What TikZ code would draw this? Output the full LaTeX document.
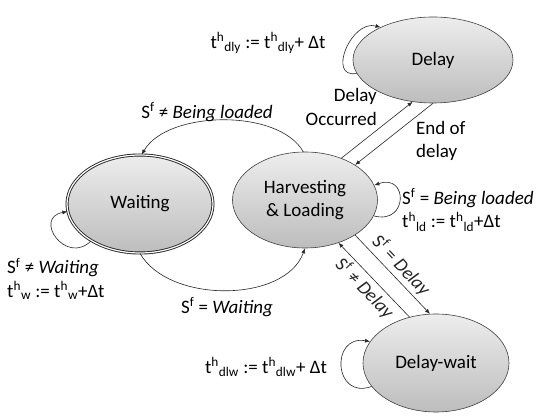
\documentclass[tikz,border=0pt]{standalone}
\usepackage{fontspec}
\setmainfont{Carlito}
\usepackage{tikz}
\usetikzlibrary{shapes.geometric, arrows.meta, positioning}
\newcommand{\figfont}{\fontsize{19}{23.5}\selectfont}
\newcommand{\tvar}[1]{t\textsuperscript{h}\textsubscript{#1}}
\newcommand{\sfl}{S\textsuperscript{f}}

\begin{document}
\begin{tikzpicture}[
    x=1pt, y=1pt,
    state/.style={ellipse, draw=black!75, line width=0.6pt,
        top color=gray!14, bottom color=gray!52, inner sep=0pt,
        align=center, font=\figfont},
    arr/.style={-{Latex[length=5pt,width=4pt]}, line width=0.6pt, black!85},
    lbl/.style={font=\figfont, inner sep=1pt}
]
\useasboundingbox (0,0) rectangle (544,-419);

\node[state, minimum width=146pt, minimum height=98pt, draw=black!85,
      line width=0.9pt, double=white, double distance=1.2pt] (wait) at (140,-204) {Waiting};
\node[state, minimum width=145pt, minimum height=96pt] (harv) at (305,-200) {Harvesting\\\& Loading};
\node[state, minimum width=160pt, minimum height=86pt] (dly) at (433,-60) {Delay};
\node[state, minimum width=146pt, minimum height=98pt] (dlw) at (436,-363) {Delay-wait};

% self loops
\draw[arr] (dly.190) to[out=190, in=165, looseness=1.5] (dly.148);
\draw[arr] (wait.217) to[out=225, in=190, looseness=2.4] (wait.186);
\draw[arr] (harv.347) to[out=-15, in=20, looseness=3] (harv.12);
\draw[arr] (dlw.200) to[out=200, in=170, looseness=2.3] (dlw.162);

% transitions
\draw[arr] (harv.92) to[out=120, in=60, looseness=0.8] (wait.88);
\draw[arr] (wait.270) to[out=-60, in=-110, looseness=0.9] (harv.270);
\draw[arr] (harv.49) -- (dly.244);
\draw[arr] (dly.270) -- (harv.35);
\draw[arr] (harv.325) -- (dlw.97)
    node[midway, above=2pt, sloped, lbl] (eqd) {\sfl{} = \textit{Delay}};
\draw[arr] (dlw.120) -- (harv.308)
    node[midway, below=2pt, sloped, lbl] (neqd) {\sfl{} ≠ \textit{Delay}};

% labels
\node[lbl] (dlylbl) at (268,-43) {\tvar{dly} := \tvar{dly}+ Δt};
\node[lbl, align=right, anchor=east] (occ) at (378,-107) {Delay\\Occurred};
\node[lbl, align=left, anchor=west] (eod) at (415,-141) {End of\\delay};
\node[lbl] (nbl) at (207,-112) {\sfl{} ≠ \textit{Being loaded}};
\node[lbl, align=left, anchor=west] (wlbl) at (6,-279) {\sfl{} ≠ \textit{Waiting}\\\tvar{w} := \tvar{w}+Δt};
\node[lbl] (eqw) at (227,-307) {\sfl{} = \textit{Waiting}};
\node[lbl, align=left, anchor=west] (hlbl) at (401,-210) {\sfl{} = \textit{Being loaded}\\\tvar{ld} := \tvar{ld}+Δt};
\node[lbl] (dlwlbl) at (266,-367) {\tvar{dlw} := \tvar{dlw}+ Δt};
\end{tikzpicture}
\end{document}
